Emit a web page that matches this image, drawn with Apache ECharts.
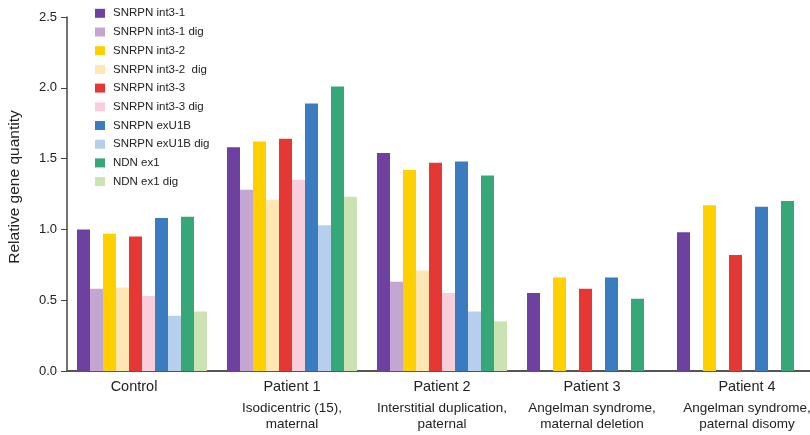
<!DOCTYPE html>
<html>
<head>
<meta charset="utf-8">
<script src="https://cdn.jsdelivr.net/npm/echarts@6/dist/echarts.min.js"></script>
<style>
html,body{margin:0;padding:0;background:#fff;}
#chart{width:810px;height:435px;}
</style>
</head>
<body>
<div id="chart"></div>
<script>
var categories = ['Control', 'Patient 1', 'Patient 2', 'Patient 3', 'Patient 4'];
var subtitles = ['', 'Isodicentric (15),\nmaternal', 'Interstitial duplication,\npaternal', 'Angelman syndrome,\nmaternal deletion', 'Angelman syndrome,\npaternal disomy'];
var seriesNames = ['SNRPN int3-1', 'SNRPN int3-1 dig', 'SNRPN int3-2', 'SNRPN int3-2  dig', 'SNRPN int3-3', 'SNRPN int3-3 dig', 'SNRPN exU1B', 'SNRPN exU1B dig', 'NDN ex1', 'NDN ex1 dig'];
var int31 = [1.00, 1.58, 1.54, 0.55, 0.98];
var int31dig = [0.58, 1.28, 0.63, null, null];
var int32 = [0.97, 1.62, 1.42, 0.66, 1.17];
var int32dig = [0.59, 1.21, 0.71, null, null];
var int33 = [0.95, 1.64, 1.47, 0.58, 0.82];
var int33dig = [0.53, 1.35, 0.55, null, null];
var exU1B = [1.08, 1.89, 1.48, 0.66, 1.16];
var exU1Bdig = [0.39, 1.03, 0.42, null, null];
var ndn = [1.09, 2.01, 1.38, 0.51, 1.20];
var ndndig = [0.42, 1.23, 0.35, null, null];
var yTicks = [0, 0.5, 1.0, 1.5, 2.0, 2.5];

var seriesData = [int31, int31dig, int32, int32dig, int33, int33dig, exU1B, exU1Bdig, ndn, ndndig];
var colors = ['#6E40A0', '#C4A6D3', '#FFD000', '#FFE6B3', '#E53834', '#F9CEDB', '#3A7CBF', '#B6CFEC', '#35A779', '#CBE3B3'];
var font = '"Liberation Sans", Arial, sans-serif';
// per-category horizontal nudge of the label block (left, right padding)
var labelShift = [[0, 16], [0, 0], [0, 0], [0, 0], [10, 0]];

var rich = {};
labelShift.forEach(function (p, i) {
  rich['m' + i] = {fontFamily: font, fontSize: 14.5, color: '#222', lineHeight: 20, padding: [0, p[1], 0, p[0]]};
  rich['a' + i] = {fontFamily: font, fontSize: 13.5, color: '#222', lineHeight: 17, padding: [6, p[1], 0, p[0]]};
  rich['b' + i] = {fontFamily: font, fontSize: 13.5, color: '#222', lineHeight: 17, padding: [3, p[1], 0, p[0]]};
});

var chart = echarts.init(document.getElementById('chart'), null, {renderer: 'canvas'});
chart.setOption({
  animation: false,
  color: colors,
  legend: {
    orient: 'vertical',
    left: 95,
    top: 7.3,
    padding: 0,
    itemWidth: 10,
    itemHeight: 9,
    itemGap: 6.7,
    icon: 'rect',
    data: seriesNames,
    textStyle: {fontFamily: font, fontSize: 11.5, color: '#222', lineHeight: 12, padding: [0, 0, 0, 3]}
  },
  grid: {left: 67, top: 17, width: 750, height: 354, containLabel: false, outerBoundsMode: 'none'},
  xAxis: {
    type: 'category',
    data: categories,
    axisLine: {lineStyle: {color: '#555', width: 2}},
    axisTick: {show: false},
    axisLabel: {
      margin: 6,
      interval: 0,
      fontFamily: font,
      color: '#222',
      formatter: function (v, i) {
        var s = subtitles[i];
        if (!s) return '{m' + i + '|' + v + '}';
        var parts = s.split('\n');
        return '{m' + i + '|' + v + '}\n{a' + i + '|' + parts[0] + '}\n{b' + i + '|' + parts[1] + '}';
      },
      rich: rich
    }
  },
  yAxis: {
    type: 'value',
    min: 0,
    max: 2.5,
    interval: 0.5,
    name: 'Relative gene quantity',
    nameLocation: 'middle',
    nameGap: 44,
    nameTextStyle: {fontFamily: font, fontSize: 15.5, color: '#222', padding: [0, 0, 0, 14]},
    axisLine: {show: true, lineStyle: {color: '#444', width: 1.5}},
    axisTick: {show: true, length: 6, lineStyle: {color: '#444'}},
    axisLabel: {fontFamily: font, fontSize: 13, color: '#222', margin: 10,
      formatter: function (v) { return v.toFixed(1); }},
    splitLine: {show: false}
  },
  series: seriesNames.map(function (n, i) {
    return {
      name: n,
      type: 'bar',
      data: seriesData[i],
      barWidth: 13,
      barGap: '0%',
      itemStyle: {color: colors[i]}
    };
  })
});
</script>
</body>
</html>
